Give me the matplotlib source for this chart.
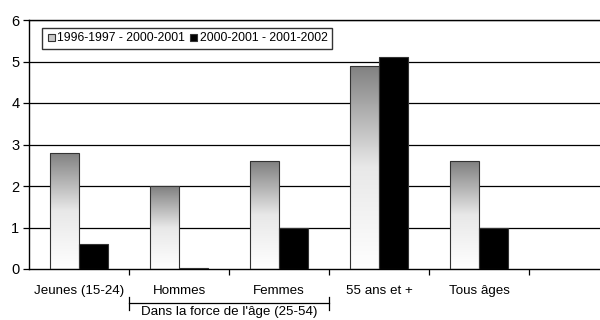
import numpy as np
import matplotlib
matplotlib.use("Agg")
import matplotlib.pyplot as plt
from matplotlib.patches import Rectangle
from matplotlib.transforms import blended_transform_factory
from matplotlib.legend_handler import HandlerBase

plt.rcParams['font.family'] = ['Liberation Sans', 'DejaVu Sans']

categories = ["Jeunes (15-24)", "Hommes", "Femmes", "55 ans et +", "Tous âges"]
series_names = ["1996-1997 - 2000-2001", "2000-2001 - 2001-2002"]
s1 = [2.8, 2.0, 2.6, 4.9, 2.6]
s2 = [0.6, 0.03, 1.0, 5.1, 1.0]
group_label = "Dans la force de l'âge (25-54)"
yticks = [0, 1, 2, 3, 4, 5, 6]

FS = 9.6
fig = plt.figure(figsize=(6, 3.2), dpi=100)
ax = fig.add_axes([29/600, 51/320, 1 - 29/600, 249/320])

x = np.arange(len(categories))
w = 0.29

for yv in yticks[1:]:
    ax.axhline(yv, color='black', lw=0.9, zorder=1)

grad = np.linspace(0, 1, 256).reshape(-1, 1)
cmap = matplotlib.colors.LinearSegmentedColormap.from_list('g', ['#ffffff', '#e8e8e8', '#808080'])
bars1 = ax.bar(x - w/2, s1, w, facecolor='none', edgecolor='#333333', lw=0.8, zorder=3)
for b in bars1:
    bx, by = b.get_x(), b.get_y()
    bw, bh = b.get_width(), b.get_height()
    im = ax.imshow(grad, cmap=cmap, extent=[bx, bx + bw, by, by + bh],
                   origin='lower', aspect='auto', zorder=2)
    im.set_clip_path(b)
ax.bar(x + w/2, s2, w, color='black', edgecolor='#333333', lw=0.8, zorder=3)

ax.set_aspect('auto')
ax.set_xlim(-0.5, -0.5 + 571/100)
ax.set_ylim(0, 6)

ax.spines['right'].set_visible(False)
for s in ['left', 'bottom', 'top']:
    ax.spines[s].set_linewidth(1.0)
ax.set_yticks(yticks)
ax.set_yticklabels([str(v) for v in yticks], fontsize=10.5)
ax.tick_params(axis='y', length=4, width=0.9, pad=3)
ax.set_xticks(np.arange(0.5, 4.6, 1.0))
ax.set_xticklabels([])
ax.tick_params(axis='x', length=4, width=0.9, direction='out')

tr = blended_transform_factory(ax.transData, fig.transFigure)
for i, c in enumerate(categories):
    ax.text(i, (320 - 291) / 320, c, ha='center', va='center', fontsize=FS, transform=tr)

yb = (320 - 303) / 320
ax.plot([0.5, 2.5], [yb, yb], color='black', lw=0.9, transform=tr, clip_on=False)
for xe in [0.5, 2.5]:
    ax.plot([xe, xe], [yb + 6/320, yb - 7/320], color='black', lw=0.9, transform=tr, clip_on=False)
ax.text(1.5, (320 - 312) / 320, group_label, ha='center', va='center', fontsize=FS, transform=tr)


class GradHandler(HandlerBase):
    def create_artists(self, legend, orig_handle, xdescent, ydescent, width, height, fontsize, trans):
        s = height * 0.85
        r = Rectangle((width - s - xdescent, -ydescent), s, s, facecolor='#c8c8c8', edgecolor='#333333', lw=0.8, transform=trans)
        return [r]


class SqHandler(HandlerBase):
    def create_artists(self, legend, orig_handle, xdescent, ydescent, width, height, fontsize, trans):
        s = height * 0.85
        r = Rectangle((width - s - xdescent, -ydescent), s, s, facecolor='black', edgecolor='#333333', lw=0.8, transform=trans)
        return [r]


h1 = Rectangle((0, 0), 1, 1)
h2 = Rectangle((0, 0), 1, 1, facecolor='black')
leg = ax.legend([h1, h2], series_names, handler_map={h1: GradHandler(), h2: SqHandler()},
                loc='upper left', bbox_to_anchor=(13/571, 0.968), ncol=2, fontsize=8.8,
                frameon=True, fancybox=False, edgecolor='black', handlelength=0.7,
                handletextpad=0.2, columnspacing=0.3, borderpad=0.35, borderaxespad=0)
leg.get_frame().set_linewidth(1.0)
leg.set_zorder(5)

fig.savefig("out.png", dpi=100)
